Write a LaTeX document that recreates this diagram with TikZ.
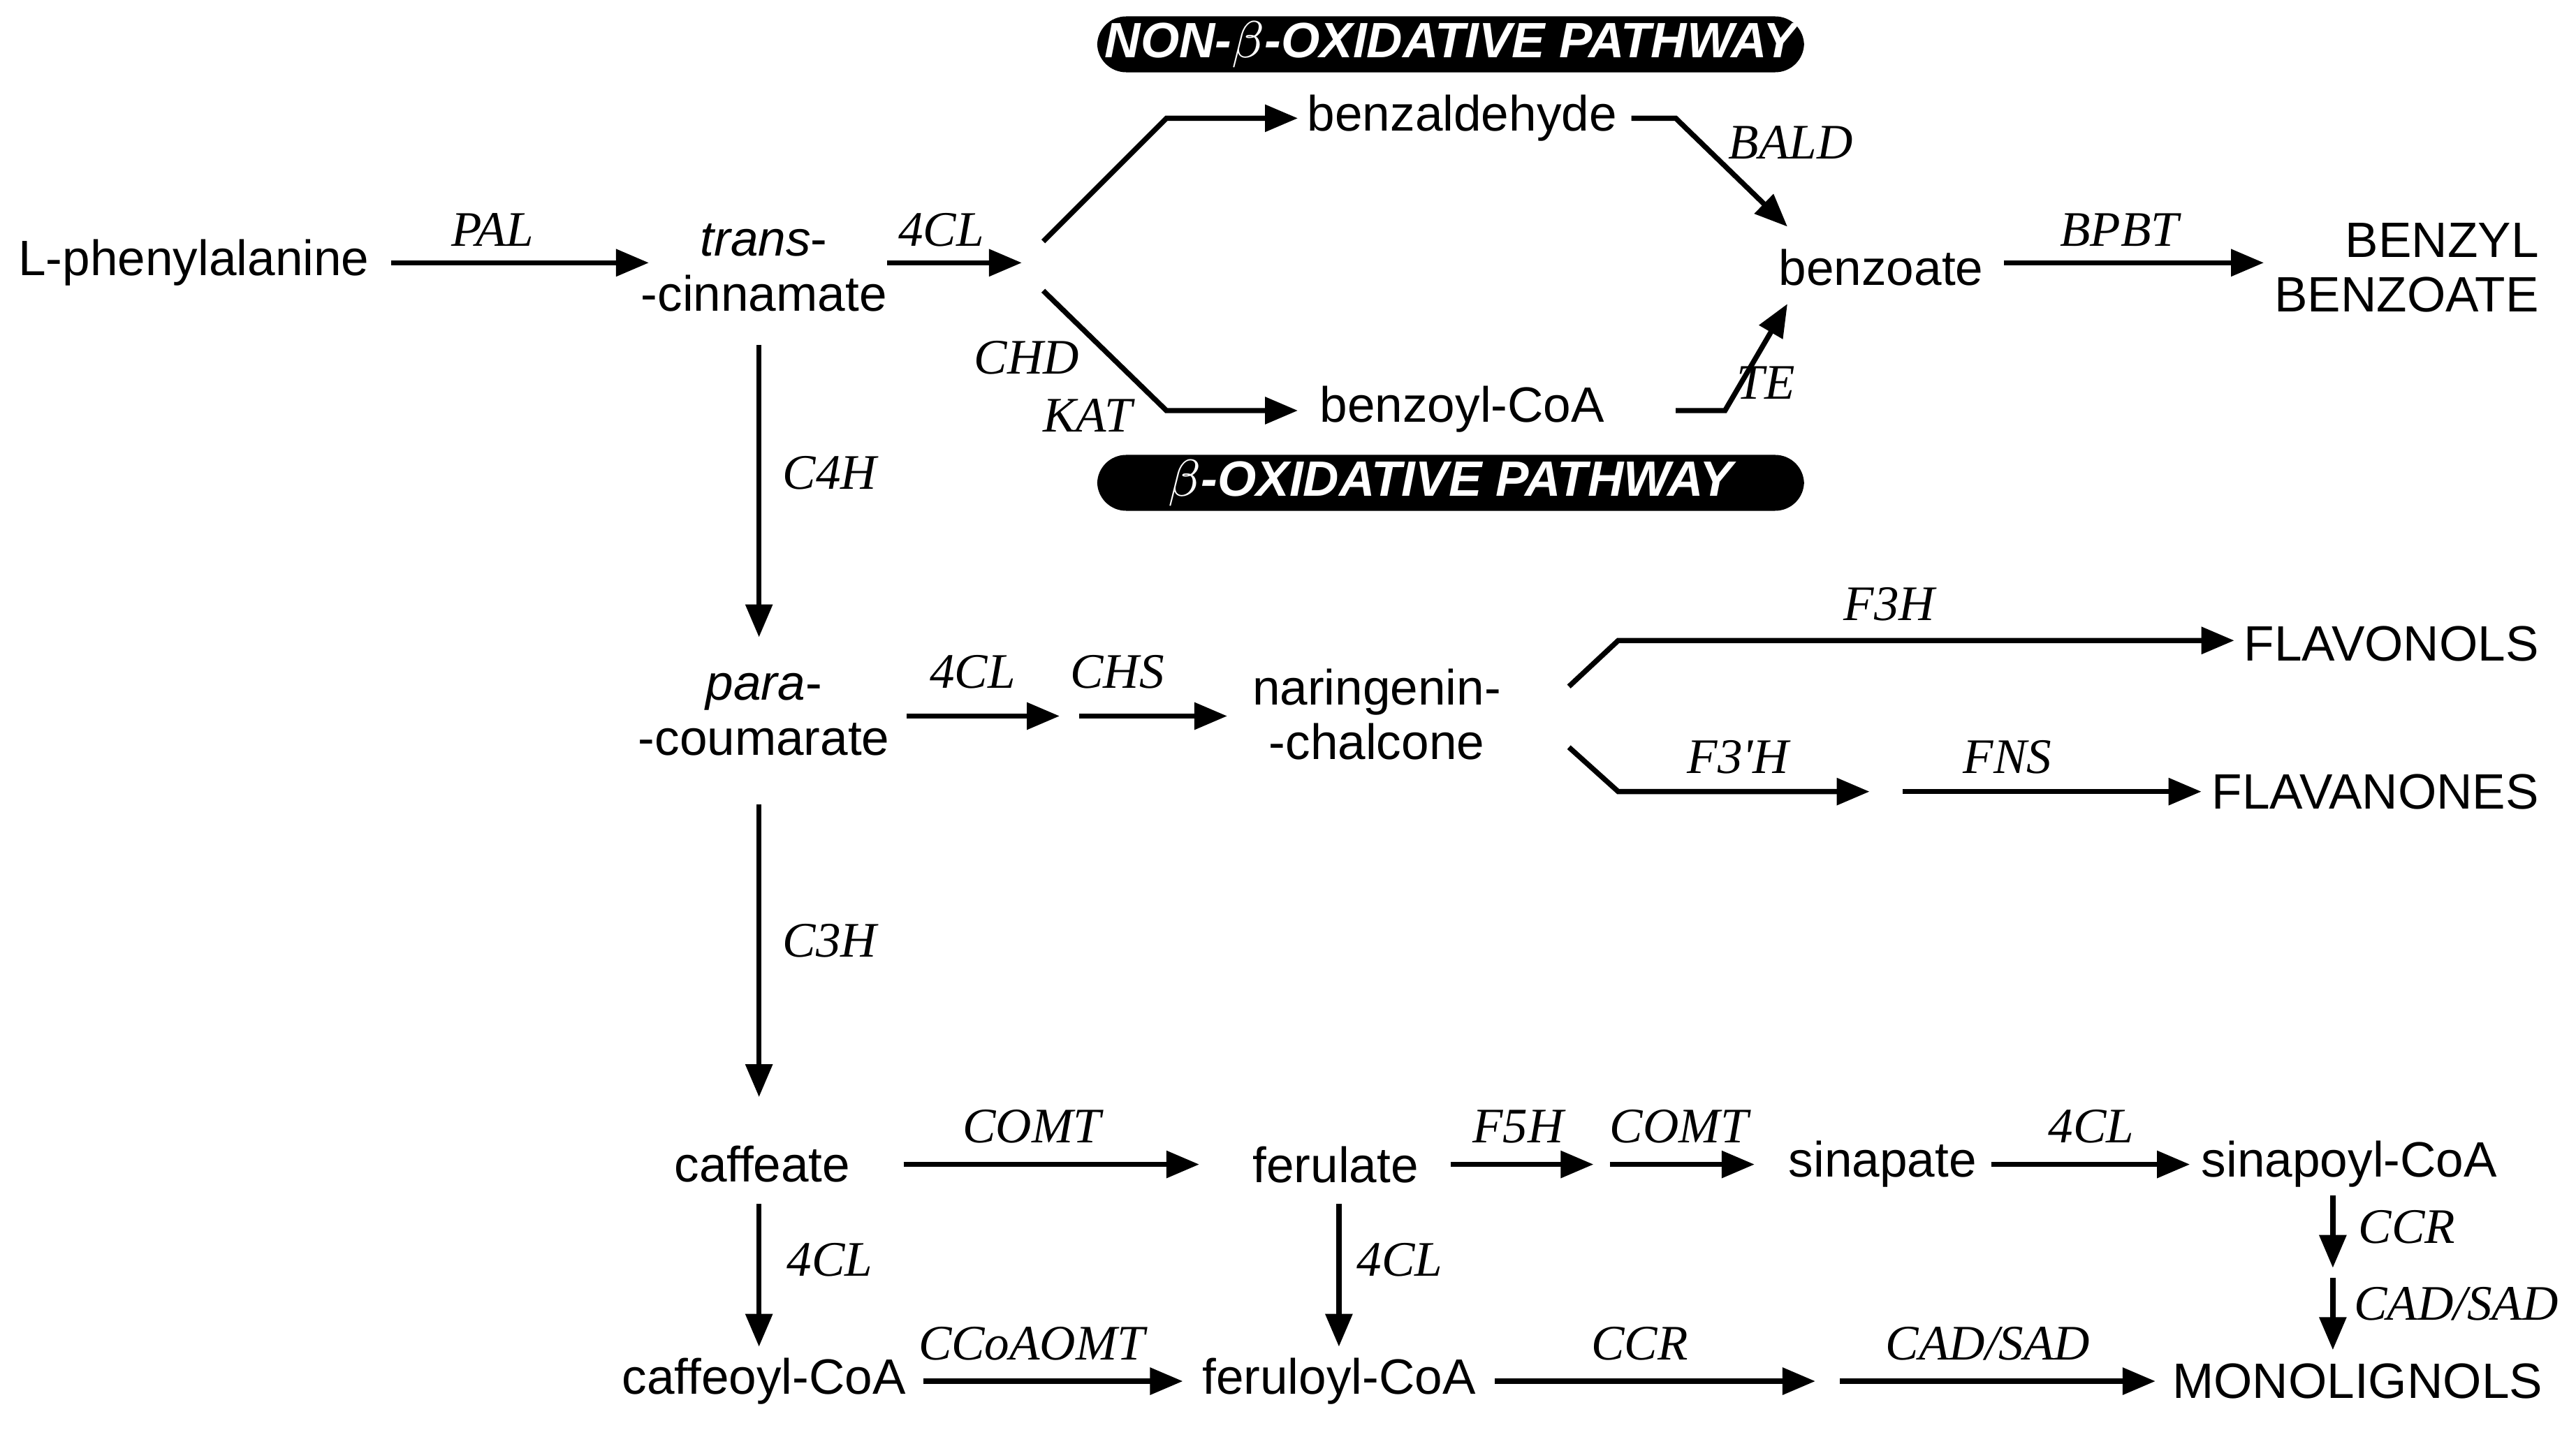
\documentclass[tikz,border=0pt]{standalone}
\usepackage{fontspec}
\setmainfont{Liberation Sans}
\newfontfamily\enzf{Liberation Serif}
\usetikzlibrary{arrows.meta}
\begin{document}
\begin{tikzpicture}[x=0.01cm,y=-0.01cm,
  met/.style={font=\fontsize{8.6}{9.5}\selectfont,align=center,inner sep=0pt},
  enz/.style={font=\enzf\itshape\fontsize{8.6}{9.5}\selectfont,inner sep=0pt},
  path/.style={fill=black,rounded corners=5pt,minimum width=4.3cm,minimum height=0.34cm,text=white,font=\bfseries\itshape\fontsize{8.6}{9.5}\selectfont,inner sep=0pt},
  arr/.style={line width=0.9pt,-{Triangle[length=0.2cm,width=0.16cm]}},
  ln/.style={line width=0.9pt}]
\useasboundingbox (0,0) rectangle (1568,879);
% metabolites
\node[met] (lphe) at (118,160) {L-phenylalanine};
\node[met] (trans) at (465,163) {\textit{trans}-\\-cinnamate};
\node[met] (bald) at (890,72) {benzaldehyde};
\node[met] (bcoa) at (890,249) {benzoyl-CoA};
\node[met] (benz) at (1145,163) {benzoate};
\node[met,align=right,anchor=east] (bb) at (1546,163) {BENZYL\\BENZOATE};
\node[path] (nonb) at (883,27) {NON-$\beta$-OXIDATIVE PATHWAY};
\node[path] (bpath) at (883,294) {$\beta$-OXIDATIVE PATHWAY};
\node[met] (para) at (465,435) {\textit{para}-\\-coumarate};
\node[met] (nar) at (838,435) {naringenin-\\-chalcone};
\node[met,anchor=east] (flo) at (1546,392) {FLAVONOLS};
\node[met,anchor=east] (fla) at (1546,482) {FLAVANONES};
\node[met] (caf) at (464,709) {caffeate};
\node[met] (fer) at (813,709) {ferulate};
\node[met] (sin) at (1146,709) {sinapate};
\node[met] (sinc) at (1430,709) {sinapoyl-CoA};
\node[met] (cafc) at (465,841) {caffeoyl-CoA};
\node[met] (ferc) at (815,841) {feruloyl-CoA};
\node[met] (mono) at (1435,841) {MONOLIGNOLS};
% enzymes
\node[enz] at (300,140) {PAL};
\node[enz] at (573,140) {4CL};
\node[enz] at (625,218) {CHD};
\node[enz] at (662,253) {KAT};
\node[enz] at (1090,87) {BALD};
\node[enz] at (1075,233) {TE};
\node[enz] at (1290,140) {BPBT};
\node[enz] at (505,288) {C4H};
\node[enz] at (592,409) {4CL};
\node[enz] at (680,409) {CHS};
\node[enz] at (1150,368) {F3H};
\node[enz] at (1058,461) {F3'H};
\node[enz] at (1222,461) {FNS};
\node[enz] at (505,573) {C3H};
\node[enz] at (628,686) {COMT};
\node[enz] at (924,686) {F5H};
\node[enz] at (1022,686) {COMT};
\node[enz] at (1273,686) {4CL};
\node[enz] at (505,767) {4CL};
\node[enz] at (852,767) {4CL};
\node[enz] at (628,818) {CCoAOMT};
\node[enz] at (998,818) {CCR};
\node[enz] at (1210,818) {CAD/SAD};
\node[enz] at (1465,747) {CCR};
\node[enz] at (1495,794) {CAD/SAD};
% connectors
\draw[arr] (238,160) -- (395,160);
\draw[arr] (540,160) -- (622,160);
\draw[arr] (635,147) -- (710,72) -- (790,72);
\draw[arr] (635,177) -- (710,250) -- (790,250);
\draw[arr] (993,72) -- (1020,72) -- (1088,138);
\draw[arr] (1020,250) -- (1050,250) -- (1088,185);
\draw[arr] (1220,160) -- (1378,160);
\draw[arr] (462,210) -- (462,388);
\draw[arr] (552,436) -- (645,436);
\draw[arr] (657,436) -- (747,436);
\draw[arr] (955,418) -- (985,390) -- (1360,390);
\draw[arr] (955,455) -- (985,482) -- (1138,482);
\draw[arr] (1158,482) -- (1340,482);
\draw[arr] (462,490) -- (462,668);
\draw[arr] (550,709) -- (730,709);
\draw[arr] (883,709) -- (970,709);
\draw[arr] (980,709) -- (1068,709);
\draw[arr] (1212,709) -- (1333,709);
\draw[arr] (462,733) -- (462,820);
\draw[arr] (815,733) -- (815,820);
\draw[arr] (562,841) -- (720,841);
\draw[arr] (910,841) -- (1105,841);
\draw[arr] (1120,841) -- (1312,841);
\draw[arr] (1420,728) -- (1420,772);
\draw[arr] (1420,778) -- (1420,822);
\end{tikzpicture}
\end{document}
